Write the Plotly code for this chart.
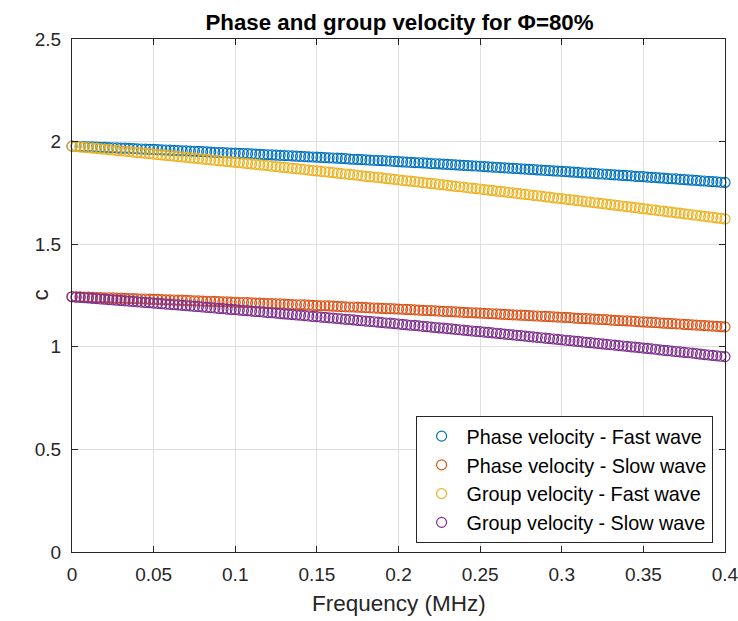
import plotly.graph_objects as go

# Frequency (MHz)
freq = [
    0.0, 0.0025, 0.005, 0.0075, 0.01, 0.0125, 0.015, 0.0175, 0.02, 0.0225,
    0.025, 0.0275, 0.03, 0.0325, 0.035, 0.0375, 0.04, 0.0425, 0.045, 0.0475,
    0.05, 0.0525, 0.055, 0.0575, 0.06, 0.0625, 0.065, 0.0675, 0.07, 0.0725,
    0.075, 0.0775, 0.08, 0.0825, 0.085, 0.0875, 0.09, 0.0925, 0.095, 0.0975,
    0.1, 0.1025, 0.105, 0.1075, 0.11, 0.1125, 0.115, 0.1175, 0.12, 0.1225,
    0.125, 0.1275, 0.13, 0.1325, 0.135, 0.1375, 0.14, 0.1425, 0.145, 0.1475,
    0.15, 0.1525, 0.155, 0.1575, 0.16, 0.1625, 0.165, 0.1675, 0.17, 0.1725,
    0.175, 0.1775, 0.18, 0.1825, 0.185, 0.1875, 0.19, 0.1925, 0.195, 0.1975,
    0.2, 0.2025, 0.205, 0.2075, 0.21, 0.2125, 0.215, 0.2175, 0.22, 0.2225,
    0.225, 0.2275, 0.23, 0.2325, 0.235, 0.2375, 0.24, 0.2425, 0.245, 0.2475,
    0.25, 0.2525, 0.255, 0.2575, 0.26, 0.2625, 0.265, 0.2675, 0.27, 0.2725,
    0.275, 0.2775, 0.28, 0.2825, 0.285, 0.2875, 0.29, 0.2925, 0.295, 0.2975,
    0.3, 0.3025, 0.305, 0.3075, 0.31, 0.3125, 0.315, 0.3175, 0.32, 0.3225,
    0.325, 0.3275, 0.33, 0.3325, 0.335, 0.3375, 0.34, 0.3425, 0.345, 0.3475,
    0.35, 0.3525, 0.355, 0.3575, 0.36, 0.3625, 0.365, 0.3675, 0.37, 0.3725,
    0.375, 0.3775, 0.38, 0.3825, 0.385, 0.3875, 0.39, 0.3925, 0.395, 0.3975,
    0.4,
]

phase_fast = [
    1.978, 1.977, 1.976, 1.976, 1.975, 1.974, 1.973, 1.972, 1.972, 1.971,
    1.970, 1.969, 1.968, 1.968, 1.967, 1.966, 1.965, 1.964, 1.963, 1.962,
    1.962, 1.961, 1.960, 1.959, 1.958, 1.957, 1.956, 1.955, 1.955, 1.954,
    1.953, 1.952, 1.951, 1.950, 1.949, 1.948, 1.947, 1.946, 1.945, 1.944,
    1.944, 1.943, 1.942, 1.941, 1.940, 1.939, 1.938, 1.937, 1.936, 1.935,
    1.934, 1.933, 1.932, 1.931, 1.930, 1.929, 1.928, 1.927, 1.926, 1.925,
    1.924, 1.923, 1.922, 1.921, 1.920, 1.919, 1.918, 1.917, 1.915, 1.914,
    1.913, 1.912, 1.911, 1.910, 1.909, 1.908, 1.907, 1.906, 1.905, 1.904,
    1.902, 1.901, 1.900, 1.899, 1.898, 1.897, 1.896, 1.895, 1.893, 1.892,
    1.891, 1.890, 1.889, 1.888, 1.887, 1.885, 1.884, 1.883, 1.882, 1.881,
    1.880, 1.878, 1.877, 1.876, 1.875, 1.873, 1.872, 1.871, 1.870, 1.869,
    1.867, 1.866, 1.865, 1.864, 1.862, 1.861, 1.860, 1.859, 1.857, 1.856,
    1.855, 1.854, 1.852, 1.851, 1.850, 1.848, 1.847, 1.846, 1.845, 1.843,
    1.842, 1.841, 1.839, 1.838, 1.837, 1.835, 1.834, 1.833, 1.831, 1.830,
    1.829, 1.827, 1.826, 1.825, 1.823, 1.822, 1.820, 1.819, 1.818, 1.816,
    1.815, 1.813, 1.812, 1.811, 1.809, 1.808, 1.806, 1.805, 1.804, 1.802,
    1.801,
]

phase_slow = [
    1.244, 1.243, 1.243, 1.242, 1.242, 1.241, 1.240, 1.240, 1.239, 1.239,
    1.238, 1.237, 1.237, 1.236, 1.235, 1.235, 1.234, 1.233, 1.233, 1.232,
    1.231, 1.231, 1.230, 1.229, 1.229, 1.228, 1.227, 1.227, 1.226, 1.225,
    1.224, 1.224, 1.223, 1.222, 1.222, 1.221, 1.220, 1.219, 1.219, 1.218,
    1.217, 1.216, 1.216, 1.215, 1.214, 1.213, 1.213, 1.212, 1.211, 1.210,
    1.209, 1.209, 1.208, 1.207, 1.206, 1.205, 1.205, 1.204, 1.203, 1.202,
    1.201, 1.200, 1.200, 1.199, 1.198, 1.197, 1.196, 1.195, 1.194, 1.194,
    1.193, 1.192, 1.191, 1.190, 1.189, 1.188, 1.187, 1.186, 1.186, 1.185,
    1.184, 1.183, 1.182, 1.181, 1.180, 1.179, 1.178, 1.177, 1.176, 1.175,
    1.174, 1.173, 1.172, 1.171, 1.170, 1.169, 1.168, 1.167, 1.166, 1.165,
    1.164, 1.163, 1.162, 1.161, 1.160, 1.159, 1.158, 1.157, 1.156, 1.155,
    1.154, 1.153, 1.152, 1.151, 1.150, 1.149, 1.148, 1.147, 1.146, 1.145,
    1.144, 1.143, 1.142, 1.140, 1.139, 1.138, 1.137, 1.136, 1.135, 1.134,
    1.133, 1.132, 1.130, 1.129, 1.128, 1.127, 1.126, 1.125, 1.124, 1.122,
    1.121, 1.120, 1.119, 1.118, 1.117, 1.115, 1.114, 1.113, 1.112, 1.111,
    1.109, 1.108, 1.107, 1.106, 1.105, 1.103, 1.102, 1.101, 1.100, 1.098,
    1.097,
]

group_fast = [
    1.978, 1.976, 1.974, 1.972, 1.970, 1.968, 1.967, 1.965, 1.963, 1.961,
    1.959, 1.957, 1.955, 1.953, 1.951, 1.949, 1.947, 1.945, 1.943, 1.941,
    1.939, 1.937, 1.935, 1.933, 1.931, 1.929, 1.927, 1.925, 1.923, 1.921,
    1.919, 1.917, 1.915, 1.913, 1.911, 1.909, 1.907, 1.905, 1.903, 1.901,
    1.899, 1.897, 1.895, 1.893, 1.891, 1.889, 1.887, 1.885, 1.883, 1.880,
    1.878, 1.876, 1.874, 1.872, 1.870, 1.868, 1.866, 1.864, 1.861, 1.859,
    1.857, 1.855, 1.853, 1.851, 1.849, 1.846, 1.844, 1.842, 1.840, 1.838,
    1.836, 1.833, 1.831, 1.829, 1.827, 1.825, 1.823, 1.820, 1.818, 1.816,
    1.814, 1.811, 1.809, 1.807, 1.805, 1.803, 1.800, 1.798, 1.796, 1.794,
    1.791, 1.789, 1.787, 1.784, 1.782, 1.780, 1.778, 1.775, 1.773, 1.771,
    1.769, 1.766, 1.764, 1.762, 1.759, 1.757, 1.755, 1.752, 1.750, 1.748,
    1.745, 1.743, 1.741, 1.738, 1.736, 1.734, 1.731, 1.729, 1.726, 1.724,
    1.722, 1.719, 1.717, 1.715, 1.712, 1.710, 1.707, 1.705, 1.702, 1.700,
    1.698, 1.695, 1.693, 1.690, 1.688, 1.685, 1.683, 1.681, 1.678, 1.676,
    1.673, 1.671, 1.668, 1.666, 1.663, 1.661, 1.658, 1.656, 1.653, 1.651,
    1.648, 1.646, 1.643, 1.641, 1.638, 1.636, 1.633, 1.631, 1.628, 1.626,
    1.623,
]

group_slow = [
    1.244, 1.242, 1.241, 1.239, 1.238, 1.236, 1.235, 1.233, 1.232, 1.230,
    1.229, 1.227, 1.226, 1.224, 1.223, 1.221, 1.219, 1.218, 1.216, 1.215,
    1.213, 1.212, 1.210, 1.208, 1.207, 1.205, 1.204, 1.202, 1.200, 1.199,
    1.197, 1.196, 1.194, 1.192, 1.191, 1.189, 1.187, 1.186, 1.184, 1.182,
    1.181, 1.179, 1.177, 1.176, 1.174, 1.172, 1.171, 1.169, 1.167, 1.166,
    1.164, 1.162, 1.160, 1.159, 1.157, 1.155, 1.154, 1.152, 1.150, 1.148,
    1.147, 1.145, 1.143, 1.141, 1.140, 1.138, 1.136, 1.134, 1.133, 1.131,
    1.129, 1.127, 1.125, 1.124, 1.122, 1.120, 1.118, 1.116, 1.115, 1.113,
    1.111, 1.109, 1.107, 1.105, 1.104, 1.102, 1.100, 1.098, 1.096, 1.094,
    1.092, 1.091, 1.089, 1.087, 1.085, 1.083, 1.081, 1.079, 1.077, 1.075,
    1.074, 1.072, 1.070, 1.068, 1.066, 1.064, 1.062, 1.060, 1.058, 1.056,
    1.054, 1.052, 1.050, 1.048, 1.046, 1.044, 1.042, 1.040, 1.038, 1.036,
    1.034, 1.032, 1.030, 1.028, 1.026, 1.024, 1.022, 1.020, 1.018, 1.016,
    1.014, 1.012, 1.010, 1.008, 1.006, 1.004, 1.002, 1.000, 0.998, 0.996,
    0.994, 0.992, 0.990, 0.988, 0.985, 0.983, 0.981, 0.979, 0.977, 0.975,
    0.973, 0.971, 0.969, 0.967, 0.964, 0.962, 0.960, 0.958, 0.956, 0.954,
    0.952,
]

series_names = [
    "Phase velocity - Fast wave",
    "Phase velocity - Slow wave",
    "Group velocity - Fast wave",
    "Group velocity - Slow wave",
]
series_values = [phase_fast, phase_slow, group_fast, group_slow]
series_colors = ["#0072BD", "#D95319", "#EDB120", "#7E2F8E"]

x_tickvals = [0, 0.05, 0.1, 0.15, 0.2, 0.25, 0.3, 0.35, 0.4]
x_ticktext = ["0", "0.05", "0.1", "0.15", "0.2", "0.25", "0.3", "0.35", "0.4"]
y_tickvals = [0, 0.5, 1, 1.5, 2, 2.5]
y_ticktext = ["0", "0.5", "1", "1.5", "2", "2.5"]

FONT = "Liberation Sans, Arial, Helvetica, sans-serif"
AX = "#262626"
GRID = "#dfdfdf"

fig = go.Figure()
for name, vals, col in zip(series_names, series_values, series_colors):
    fig.add_trace(go.Scatter(
        x=freq, y=vals, name=name, mode="markers",
        marker=dict(symbol="circle-open", size=10, color=col, line=dict(width=1.2, color=col)),
        cliponaxis=False,
    ))

axis_common = dict(
    showgrid=True, gridcolor=GRID, gridwidth=1,
    showline=True, linecolor=AX, linewidth=1, mirror="allticks",
    ticks="inside", ticklen=6, tickcolor=AX, tickwidth=1,
    zeroline=False, ticklabeloverflow="allow", automargin=False,
    tickfont=dict(family=FONT, size=19, color=AX),
)

fig.update_layout(
    width=738, height=621,
    margin=dict(l=72, r=12.5, t=38.5, b=69, autoexpand=False),
    paper_bgcolor="white", plot_bgcolor="white",
    font=dict(family=FONT, color=AX),
    title=dict(
        text="<b>Phase and group velocity for \u03a6=80%</b>",
        font=dict(family=FONT, size=22.3, color="black"),
        x=0.5413, xanchor="center", xref="container",
        y=0.965, yanchor="middle", yref="container",
    ),
    xaxis=dict(
        range=[0, 0.40001], tickvals=x_tickvals, ticktext=x_ticktext,
        ticklabelstandoff=5,
        **axis_common,
    ),
    yaxis=dict(
        range=[0, 2.50001], tickvals=y_tickvals, ticktext=y_ticktext,
        ticklabelstandoff=6,
        **axis_common,
    ),
    legend=dict(
        x=0.981, xanchor="right", y=0.018, yanchor="bottom",
        bgcolor="white", bordercolor=AX, borderwidth=1,
        font=dict(family=FONT, size=19.8, color="black"),
        tracegroupgap=0, itemwidth=40,
    ),
    showlegend=True,
    annotations=[
        dict(text="Frequency (MHz)", xref="paper", yref="paper", x=0.5, y=-0.1,
             xanchor="center", yanchor="middle", showarrow=False,
             font=dict(family=FONT, size=22.5, color=AX)),
        dict(text="c", xref="paper", yref="paper", x=-0.049, y=0.5,
             xanchor="center", yanchor="middle", showarrow=False, textangle=-90,
             font=dict(family=FONT, size=22.5, color=AX)),
    ],
)

fig.write_html("out.html")
